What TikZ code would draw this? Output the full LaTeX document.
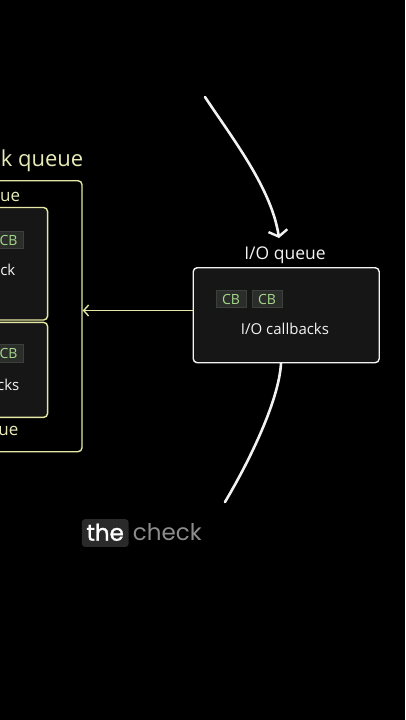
\documentclass[tikz,border=0pt]{standalone}
\usepackage{fontspec}
\setmainfont{Open Sans}
\newfontfamily\capfont{Poppins}
\usetikzlibrary{arrows.meta}
\definecolor{bgc}{HTML}{000000}
\definecolor{pale}{HTML}{E4E8A4}
\definecolor{paletext}{HTML}{E8EAB8}
\definecolor{boxfill}{HTML}{161616}
\definecolor{tagfill}{HTML}{2A2D2A}
\definecolor{tagline}{HTML}{3C403C}
\definecolor{taggreen}{HTML}{A6D98C}
\definecolor{wht}{HTML}{F2F2F2}
\definecolor{capbg}{HTML}{2A2A2A}
\definecolor{capgray}{HTML}{8C8C8C}
\tikzset{
  ybox/.style={draw=pale, line width=1.4pt, rounded corners=4pt},
  ibox/.style={draw=pale, line width=1.4pt, rounded corners=4pt, fill=boxfill},
  wbox/.style={draw=wht, line width=1.4pt, rounded corners=4pt, fill=boxfill},
  tag/.style={draw=tagline, line width=0.8pt, fill=tagfill, text=taggreen, font=\fontsize{14}{14}\selectfont, minimum width=30pt, minimum height=17.5pt, inner sep=0pt},
  ytxt/.style={text=paletext, inner sep=0pt},
  wtxt/.style={text=wht, inner sep=0pt},
  arc/.style={draw=wht, line width=2.6pt, line cap=round},
}
\begin{document}
\begin{tikzpicture}[x=1pt, y=-1pt]
\useasboundingbox (0,0) rectangle (405,720);
\fill[bgc] (0,0) rectangle (405,720);
\clip (0,0) rectangle (405,720);
% left structure (cut off by the left edge)
\node[ybox, minimum width=150pt, minimum height=271pt, anchor=north east] (outer) at (82.7,180) {};
\node[ibox, minimum width=120pt, minimum height=112.5pt, anchor=north east] (inA) at (48.3,206.8) {};
\node[ibox, minimum width=120pt, minimum height=95pt, anchor=north east] (inB) at (48.3,321.7) {};
\node[ytxt, anchor=base east, font=\fontsize{22}{22}\selectfont] (ktitle) at (83.5,166) {k queue};
\node[ytxt, anchor=base east, font=\fontsize{17}{17}\selectfont] (ueA) at (20.3,201.5) {ue};
\node[ytxt, anchor=base east, font=\fontsize{17}{17}\selectfont] (ueB) at (18.5,435) {ue};
\node[tag, anchor=east] (tagA) at (24,240) {CB};
\node[tag, anchor=east] (tagB) at (24,353.5) {CB};
\node[wtxt, anchor=base east, font=\fontsize{15}{15}\selectfont] (ckA) at (15.5,275) {ck};
\node[wtxt, anchor=base east, font=\fontsize{15}{15}\selectfont] (ckB) at (19.5,390) {cks};
% I/O queue
\node[wbox, minimum width=186pt, minimum height=95pt, anchor=north west] (io) at (192.5,267) {};
\node[wtxt, font=\fontsize{17.5}{17.5}\selectfont] (iotitle) at (285,255) {I/O queue};
\node[tag] (tag1) at (231,299) {CB};
\node[tag] (tag2) at (267,299) {CB};
\node[wtxt, font=\fontsize{15}{15}\selectfont] (iocb) at (285,329) {I/O callbacks};
% connector
\draw[draw=pale, line width=1.4pt, -{Straight Barb[length=5pt,width=11pt,line width=1.4pt]}] (io.west |- 0,310.5) -- (outer.east |- 0,310.5);
% arcs
\coordinate (a0) at (205,97);
\coordinate (a1) at (279,238);
\draw[arc, -{Straight Barb[length=6pt,width=19pt,line width=2.4pt]}] (a0) .. controls (232.5,138.5) and (271.5,188.5) .. (a1);
\coordinate (b1) at (225,502);
\draw[arc] (io.south -| 281,0) .. controls (279,400) and (250,460) .. (b1);
% caption
\node[fill=capbg, rounded corners=3pt, minimum width=46.6pt, minimum height=27.7pt, inner sep=0pt, anchor=north west] (hl) at (81.7,519) {};
\node[text=white, font=\capfont\fontsize{23}{23}\selectfont, inner sep=0pt, anchor=base] (the) at (hl.center |- 0,540.7) {\addfontfeatures{FakeBold=1.2}the};
\node[text=capgray, font=\capfont\fontsize{23}{23}\selectfont, inner sep=0pt, anchor=base west] (check) at (132.7,540.7) {check};
\end{tikzpicture}
\end{document}
